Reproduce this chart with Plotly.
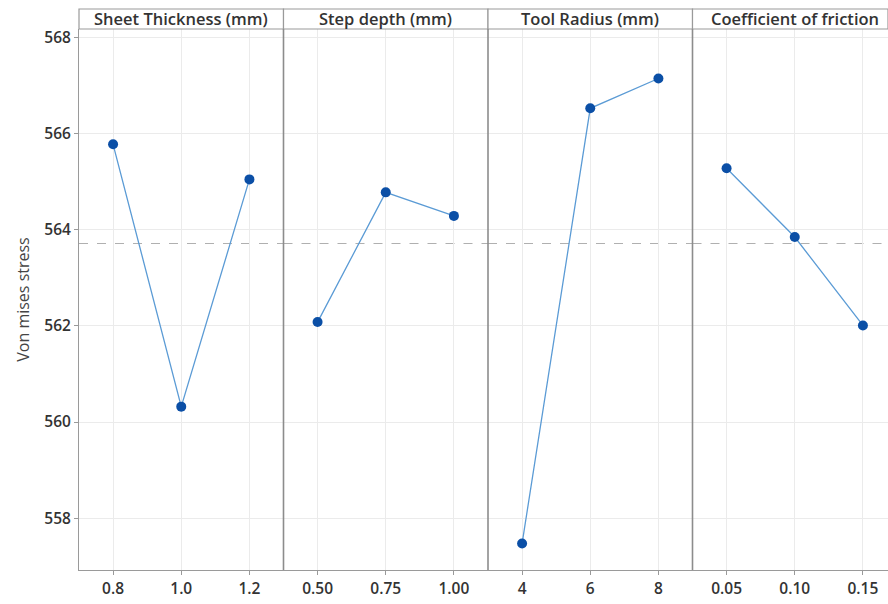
import plotly.graph_objects as go

# Main effects of each factor on Von Mises stress (level means)
factors = ["Sheet Thickness (mm)", "Step depth (mm)", "Tool Radius (mm)", "Coefficient of friction"]
thickness_levels = ["0.8", "1.0", "1.2"]
thickness_means = [565.78, 560.32, 565.05]
step_levels = ["0.50", "0.75", "1.00"]
step_means = [562.08, 564.78, 564.29]
radius_levels = ["4", "6", "8"]
radius_means = [557.47, 566.53, 567.15]
friction_levels = ["0.05", "0.10", "0.15"]
friction_means = [565.28, 563.85, 562.01]
y_ticks = [558, 560, 562, 564, 566, 568]

levels = [thickness_levels, step_levels, radius_levels, friction_levels]
means = [thickness_means, step_means, radius_means, friction_means]
all_vals = [v for m in means for v in m]
grand_mean = sum(all_vals) / len(all_vals)

W, H = 888, 604
ML, MR, MT, MB = 79, 0, 29, 34
plot_w = W - ML - MR
plot_h = H - MT - MB
panel_px = 204.5
strip_px = 20

FONT = "Open Sans"
TXT = "#333333"
EDGE = "#9a9a9a"
GRID = "#ebebeb"
LINE_C = "#5b9bd5"
MARK_C = "#0b4fa6"

fig = go.Figure()
shapes = []
annotations = []
for i, (name, lv, mv) in enumerate(zip(factors, levels, means)):
    ax = "x" if i == 0 else f"x{i + 1}"
    x0 = i * panel_px / plot_w
    x1 = min((i + 1) * panel_px / plot_w, 1.0)
    # visible fraction of the last panel keeps the same category spacing
    span = (x1 - x0) * plot_w / panel_px * len(lv)
    fig.add_trace(go.Scatter(
        x=lv, y=mv, xaxis=ax, yaxis="y", mode="lines+markers",
        line=dict(color=LINE_C, width=1.3),
        marker=dict(color=MARK_C, size=10),
        showlegend=False, hoverinfo="x+y"))
    key = "xaxis" if i == 0 else f"xaxis{i + 1}"
    fig.layout[key] = dict(
        domain=[x0, x1], anchor="y", type="category",
        range=[-0.5, -0.5 + span],
        showgrid=True, gridcolor=GRID, gridwidth=1,
        ticks="outside", ticklen=4, tickcolor=EDGE,
        showline=True, linecolor=EDGE, linewidth=1, mirror=False,
        zeroline=False, fixedrange=True,
        tickfont=dict(family=FONT, size=15.5, color=TXT, weight=600))
    # grand mean reference line
    shapes.append(dict(type="line", xref=f"{ax} domain", yref="y",
                       x0=0, x1=1, y0=grand_mean, y1=grand_mean,
                       line=dict(color="#b0b0b0", width=1.2, dash="dash"), layer="below"))
    # header strip
    shapes.append(dict(type="rect", xref="paper", yref="paper",
                       x0=x0, x1=x1, y0=1, y1=1 + strip_px / plot_h,
                       line=dict(color=EDGE, width=1.2), fillcolor="white", layer="above"))
    # panel divider
    if i > 0:
        shapes.append(dict(type="line", xref="paper", yref="paper",
                           x0=x0, x1=x0, y0=0, y1=1,
                           line=dict(color="#8c8c8c", width=1.6), layer="above"))
    full_center = (i + 0.5) * panel_px / plot_w
    annotations.append(dict(text=name, xref="paper", yref="paper",
                            x=full_center, y=1 + strip_px / plot_h / 2,
                            xanchor="center", yanchor="middle", showarrow=False,
                            font=dict(family=FONT, size=16.5, color=TXT, weight=600)))

fig.update_layout(
    width=W, height=H,
    margin=dict(l=ML, r=MR, t=MT, b=MB),
    paper_bgcolor="white", plot_bgcolor="white",
    yaxis=dict(range=[556.92, 568.18], tickvals=y_ticks, anchor="x",
               showgrid=True, gridcolor=GRID, gridwidth=1,
               ticks="outside", ticklen=4, tickcolor=EDGE,
               showline=True, linecolor=EDGE, linewidth=1,
               zeroline=False, fixedrange=True,
               tickfont=dict(family=FONT, size=15.5, color=TXT, weight=600),
               title=dict(text="Von mises stress", standoff=10,
                          font=dict(family=FONT, size=16, color="#444444"))),
    shapes=shapes, annotations=annotations,
)

fig.write_html("out.html")
